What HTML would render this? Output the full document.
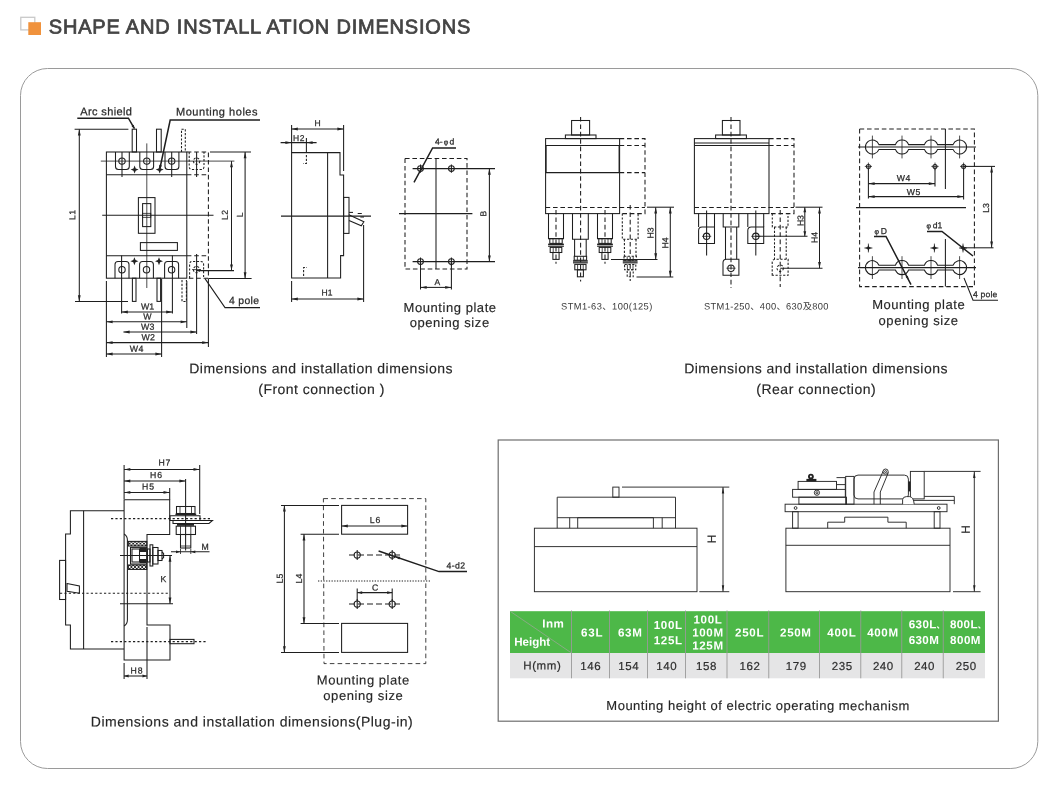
<!DOCTYPE html>
<html lang="en"><head><meta charset="utf-8"><title>Shape and installation dimensions</title>
<style>
html,body{margin:0;padding:0;background:#fff}
body{width:1060px;height:790px;overflow:hidden;position:relative;font-family:"Liberation Sans","Noto Sans CJK SC",sans-serif}
svg{position:absolute;left:0;top:0;display:block;transform:translateZ(0);opacity:.999}
svg *{vector-effect:none}
line,polyline,polygon,rect,circle,path{fill:none;stroke:#1e1e1e;stroke-width:1.05}
text{font-family:"Liberation Sans","Noto Sans CJK SC",sans-serif;fill:#2b2b2b;stroke:#2b2b2b;stroke-width:.25}
.ar{fill:#222;stroke:none}
.d{stroke-dasharray:4.6 2.8}
.d3{stroke-dasharray:4.6 3.2;stroke-width:.85}
.d2{stroke-dasharray:2.2 1.6}
.dot{stroke-dasharray:2.2 2.2}
.tk{stroke-width:1.5}
.dot2{stroke-dasharray:1.3 1.4}
.th{stroke-width:.8}
.bk{fill:#222;stroke:none}
.w{fill:#fff}
.g{stroke:#8c8c8c}
.hat{fill:url(#hx)}
.dl{stroke-dasharray:6 3}
.cap{fill:#262626;stroke:#262626;stroke-width:.15}
.sm{fill:#3a3a3a;stroke:none}
#mech1 *,#mech2 *{stroke-width:.95;stroke:#2a2a2a}
#mech1 .ar,#mech2 .ar,#mech2 .bk{stroke:none}
#mech1 text,#mech2 text{stroke-width:.2}
</style></head><body>
<svg width="1060" height="790" viewBox="0 0 1060 790">
<defs><pattern id="hx" width="3.6" height="3.6" patternUnits="userSpaceOnUse"><path d="M0 0L3.6 3.6M3.6 0L0 3.6" style="stroke:#222;stroke-width:.9;fill:none"/></pattern></defs>
<rect x="20.8" y="17.3" width="14" height="12.6" style="stroke:#c9c9c9;stroke-width:1.3;fill:#fff"/>
<rect x="28.3" y="22.2" width="12.7" height="12.8" style="fill:#f0923c;stroke:none"/>
<text x="48.8" y="33.4" font-size="20" textLength="421.5" lengthAdjust="spacing" transform="rotate(0.03 48.8 33.4)" style="fill:#444;stroke:#444;stroke-width:.75">SHAPE AND INSTALL ATION DIMENSIONS</text>
<rect x="20.5" y="68.5" width="1017.3" height="700" rx="27" style="stroke:#9a9a9a;stroke-width:1;fill:none"/>
<g id="front">
<rect x="106.4" y="152" width="80.4" height="126.2"/>
<line x1="106.4" y1="174.8" x2="186.8" y2="174.8"/>
<line x1="106.4" y1="255.8" x2="186.8" y2="255.8"/>
<path d="M115.5 152 V166.5 Q115.5 169.5 118.5 169.5 H126.3 Q129.3 169.5 129.3 166.5 V152"/>
<circle cx="122" cy="161.1" r="3.2"/>
<path d="M139.8 152 V166.5 Q139.8 169.5 142.8 169.5 H150.6 Q153.6 169.5 153.6 166.5 V152"/>
<circle cx="146.8" cy="161.1" r="3.2"/>
<path d="M165 152 V166.5 Q165 169.5 168 169.5 H175.9 Q178.9 169.5 178.9 166.5 V152"/>
<circle cx="171.7" cy="161.1" r="3.2"/>
<line x1="122" y1="152" x2="122" y2="177"/>
<line x1="171.7" y1="152" x2="171.7" y2="177"/>
<path d="M115 278.2 V264.4 Q115 261.4 118 261.4 H126 Q129 261.4 129 264.4 V278.2"/>
<circle cx="122" cy="269.8" r="3.2"/>
<path d="M139.6 278.2 V264.4 Q139.6 261.4 142.6 261.4 H150.4 Q153.4 261.4 153.4 264.4 V278.2"/>
<circle cx="146.5" cy="269.8" r="3.2"/>
<path d="M164.6 278.2 V264.4 Q164.6 261.4 167.6 261.4 H175.6 Q178.6 261.4 178.6 264.4 V278.2"/>
<circle cx="171.6" cy="269.8" r="3.2"/>
<line x1="100.8" y1="161.1" x2="234.4" y2="161.1" class="th"/>
<line x1="146.8" y1="143.4" x2="146.8" y2="288" class="th"/>
<line x1="102.2" y1="215.2" x2="213.5" y2="215.2"/>
<rect x="138.4" y="197.6" width="16.6" height="35.7"/>
<rect x="142.6" y="203.6" width="8.2" height="23"/>
<rect x="142.6" y="213.3" width="8.2" height="4" class="th"/>
<rect x="140.4" y="242.6" width="37" height="7.8"/>
<polygon class="ar" points="134.6,165.6 135.72,168.48 138.6,169.6 135.72,170.72 134.6,173.6 133.48,170.72 130.6,169.6 133.48,168.48"/>
<polygon class="ar" points="159.7,165.6 160.82,168.48 163.7,169.6 160.82,170.72 159.7,173.6 158.58,170.72 155.7,169.6 158.58,168.48"/>
<polygon class="ar" points="134.4,257.2 135.52,260.08 138.4,261.2 135.52,262.32 134.4,265.2 133.28,262.32 130.4,261.2 133.28,260.08"/>
<polygon class="ar" points="159,257.2 160.12,260.08 163,261.2 160.12,262.32 159,265.2 157.88,262.32 155,261.2 157.88,260.08"/>
<rect x="132.2" y="129.2" width="4.3" height="22.8"/>
<rect x="156.5" y="129.2" width="4.7" height="22.8"/>
<path d="M181.5 152 V129.2 H185.3 V152" class="d2"/>
<rect x="132.4" y="278.2" width="3.6" height="23.2"/>
<rect x="157" y="278.2" width="3.6" height="23.2"/>
<path d="M182 280 V301.4 H186.4 V280" class="d2"/>
<path d="M186.8 152 H208.4 V278.2 H186.8" class="d"/>
<line x1="186.8" y1="174.8" x2="208.4" y2="174.8" class="d"/>
<line x1="186.8" y1="255.8" x2="208.4" y2="255.8" class="d"/>
<path d="M189.2 152 V166.5 Q189.2 169.5 192.2 169.5 H201 Q204 169.5 204 166.5 V152" class="d2"/>
<path d="M189.6 278.2 V264.4 Q189.6 261.4 192.6 261.4 H200.6 Q203.6 261.4 203.6 264.4 V278.2" class="d2"/>
<circle cx="196.6" cy="161.1" r="3.2" class="d2"/>
<circle cx="196.6" cy="269.6" r="3.2" class="d2"/>
<line x1="192" y1="269.6" x2="201" y2="269.6" class="th"/>
<line x1="196.6" y1="152" x2="196.6" y2="177"/>
<line x1="74.6" y1="129.2" x2="128.4" y2="129.2"/>
<line x1="75" y1="301.4" x2="128" y2="301.4"/>
<line x1="79.3" y1="129.2" x2="79.3" y2="301.4"/>
<polygon class="ar" points="79.3,129.2 80.7,135.4 77.9,135.4"/>
<polygon class="ar" points="79.3,301.4 77.9,295.2 80.7,295.2"/>
<text font-size="8.5" textLength="10" lengthAdjust="spacing" transform="translate(75.23 220) rotate(-90.03)">L1</text>
<line x1="196.6" y1="270.6" x2="234" y2="270.6"/>
<line x1="231.5" y1="161.1" x2="231.5" y2="270.6"/>
<polygon class="ar" points="231.5,161.1 232.9,167.3 230.1,167.3"/>
<polygon class="ar" points="231.5,270.6 230.1,264.4 232.9,264.4"/>
<line x1="210" y1="152" x2="251" y2="152"/>
<line x1="209" y1="278.4" x2="251.6" y2="278.4"/>
<line x1="245.1" y1="152" x2="245.1" y2="278.4"/>
<polygon class="ar" points="245.1,152 246.5,158.2 243.7,158.2"/>
<polygon class="ar" points="245.1,278.4 243.7,272.2 246.5,272.2"/>
<text font-size="8.5" textLength="10" lengthAdjust="spacing" transform="translate(227.83 220) rotate(-90.03)">L2</text>
<text font-size="8.5" textLength="4.6" lengthAdjust="spacing" transform="translate(242.83 217.3) rotate(-90.03)">L</text>
<line x1="121.6" y1="255.4" x2="121.6" y2="313.5"/>
<line x1="172.4" y1="255.4" x2="172.4" y2="313.5"/>
<line x1="106.4" y1="281" x2="106.4" y2="357"/>
<line x1="186.8" y1="281" x2="186.8" y2="328"/>
<line x1="196.6" y1="254" x2="196.6" y2="334"/>
<line x1="208.4" y1="278.2" x2="208.4" y2="347"/>
<line x1="161.6" y1="279" x2="161.6" y2="357"/>
<line x1="121.6" y1="312" x2="172.4" y2="312"/>
<polygon class="ar" points="121.6,312 127.8,310.6 127.8,313.4"/>
<polygon class="ar" points="172.4,312 166.2,313.4 166.2,310.6"/>
<line x1="106.4" y1="321.8" x2="186.8" y2="321.8"/>
<polygon class="ar" points="106.4,321.8 112.6,320.4 112.6,323.2"/>
<polygon class="ar" points="186.8,321.8 180.6,323.2 180.6,320.4"/>
<line x1="123.4" y1="332" x2="196.6" y2="332"/>
<polygon class="ar" points="123.4,332 129.6,330.6 129.6,333.4"/>
<polygon class="ar" points="196.6,332 190.4,333.4 190.4,330.6"/>
<line x1="106.4" y1="342.6" x2="208.4" y2="342.6"/>
<polygon class="ar" points="106.4,342.6 112.6,341.2 112.6,344"/>
<polygon class="ar" points="208.4,342.6 202.2,344 202.2,341.2"/>
<line x1="106.4" y1="354" x2="161.6" y2="354"/>
<polygon class="ar" points="106.4,354 112.6,352.6 112.6,355.4"/>
<polygon class="ar" points="161.6,354 155.4,355.4 155.4,352.6"/>
<text x="140.9" y="309.5" font-size="8.8" textLength="13.2" lengthAdjust="spacing" transform="rotate(0.03 140.9 309.5)">W1</text>
<text x="143.3" y="319.6" font-size="8.8" textLength="8.4" lengthAdjust="spacing" transform="rotate(0.03 143.3 319.6)">W</text>
<text x="141" y="329.8" font-size="8.8" textLength="13.4" lengthAdjust="spacing" transform="rotate(0.03 141 329.8)">W3</text>
<text x="141.6" y="340.3" font-size="8.8" textLength="13.4" lengthAdjust="spacing" transform="rotate(0.03 141.6 340.3)">W2</text>
<text x="129.7" y="351.8" font-size="8.8" textLength="13.8" lengthAdjust="spacing" transform="rotate(0.03 129.7 351.8)">W4</text>
<text x="80.3" y="115.2" font-size="11" textLength="51.6" lengthAdjust="spacing" transform="rotate(0.03 80.3 115.2)">Arc shield</text>
<path d="M77.3 118.2 H128.4 L134.3 128.4" class="tk"/>
<polygon class="ar" points="134.8,129.2 131.42,125.95 133.68,124.65"/>
<text x="176" y="115.5" font-size="11" textLength="81.5" lengthAdjust="spacing" transform="rotate(0.03 176 115.5)">Mounting holes</text>
<path d="M260 120 H170.2 L160 168" class="tk"/>
<polygon class="ar" points="159.6,170 159.22,164.82 161.97,165.38"/>
<path d="M205 278.6 L225 307.6 H260"/>
<text x="229" y="304" font-size="10.4" textLength="30" lengthAdjust="spacing" transform="rotate(0.03 229 304)">4 pole</text>
</g>
<g id="side">
<polygon points="291.6,152.6 340,152.6 340,175 343.6,175 343.6,255.6 340.6,255.6 340.6,278 291.6,278"/>
<line x1="327.6" y1="152.6" x2="327.6" y2="278"/>
<rect x="343.6" y="197.4" width="5.4" height="36"/>
<line x1="281" y1="216.1" x2="371" y2="216.1"/>
<polyline points="348.8,214.7 363.9,221.8 361.3,225.8 349,220.4"/>
<line x1="349" y1="212.4" x2="353" y2="212.4"/>
<line x1="357.7" y1="213.5" x2="361.8" y2="213.5"/>
<line x1="360.3" y1="217" x2="364" y2="217"/>
<line x1="291.6" y1="125" x2="291.6" y2="152.6"/>
<line x1="343.6" y1="125" x2="343.6" y2="171"/>
<line x1="291.6" y1="129" x2="343.6" y2="129"/>
<polygon class="ar" points="291.6,129 297.8,127.6 297.8,130.4"/>
<polygon class="ar" points="343.6,129 337.4,130.4 337.4,127.6"/>
<text x="314.6" y="126" font-size="8.5" textLength="6" lengthAdjust="spacing" transform="rotate(0.03 314.6 126)">H</text>
<line x1="280.6" y1="142.6" x2="316.6" y2="142.6"/>
<polygon class="ar" points="291.6,142.6 285.4,144 285.4,141.2"/>
<polygon class="ar" points="306.4,142.6 312.6,141.2 312.6,144"/>
<line x1="306.4" y1="138" x2="306.4" y2="153"/>
<text x="293" y="141" font-size="8.5" textLength="11.5" lengthAdjust="spacing" transform="rotate(0.03 293 141)">H2</text>
<path d="M306.4 155 V163.5 H303" class="d2"/>
<path d="M303.6 276 V267.5 H307" class="d2"/>
<line x1="291.6" y1="281" x2="291.6" y2="302"/>
<line x1="363.6" y1="225" x2="363.6" y2="302"/>
<line x1="291.6" y1="299" x2="363.6" y2="299"/>
<polygon class="ar" points="291.6,299 297.8,297.6 297.8,300.4"/>
<polygon class="ar" points="363.6,299 357.4,300.4 357.4,297.6"/>
<text x="321.5" y="295.6" font-size="8.5" textLength="11" lengthAdjust="spacing" transform="rotate(0.03 321.5 295.6)">H1</text>
</g>
<g id="mp1">
<rect x="405" y="158.5" width="62" height="110.5" class="d"/>
<line x1="436" y1="158.5" x2="436" y2="269"/>
<line x1="412.6" y1="168.6" x2="495" y2="168.6"/>
<line x1="412.6" y1="261.6" x2="495" y2="261.6"/>
<line x1="399" y1="213.6" x2="472.4" y2="213.6"/>
<circle cx="420.5" cy="168.6" r="2.9"/>
<line x1="420.5" y1="164.5" x2="420.5" y2="172.7"/>
<circle cx="451.4" cy="168.6" r="2.9"/>
<line x1="451.4" y1="164.5" x2="451.4" y2="172.7"/>
<circle cx="420.5" cy="261.6" r="2.9"/>
<line x1="420.5" y1="257.5" x2="420.5" y2="265.7"/>
<circle cx="451.4" cy="261.6" r="2.9"/>
<line x1="451.4" y1="257.5" x2="451.4" y2="265.7"/>
<line x1="489.4" y1="168.6" x2="489.4" y2="261.6"/>
<polygon class="ar" points="489.4,168.6 490.8,174.8 488,174.8"/>
<polygon class="ar" points="489.4,261.6 488,255.4 490.8,255.4"/>
<text font-size="8.5" textLength="5.6" lengthAdjust="spacing" transform="translate(486.13 216.4) rotate(-90.03)">B</text>
<path d="M414 182.4 L432.6 148 H456" class="tk"/>
<polygon class="ar" points="419.2,172.8 420.43,167.78 422.72,169.02"/>
<text x="435" y="144.5" font-size="8.6" transform="rotate(0.03 435 144.5)">4-<tspan font-size="7" dx="1">φ</tspan><tspan dx="1.4">d</tspan></text>
<line x1="420.5" y1="263" x2="420.5" y2="289.5"/>
<line x1="451.4" y1="263" x2="451.4" y2="289.5"/>
<line x1="420.5" y1="287.4" x2="451.4" y2="287.4"/>
<polygon class="ar" points="420.5,287.4 426.7,286 426.7,288.8"/>
<polygon class="ar" points="451.4,287.4 445.2,288.8 445.2,286"/>
<text x="434.6" y="285" font-size="8.5" textLength="5.6" lengthAdjust="spacing" transform="rotate(0.03 434.6 285)">A</text>
<text x="403.55" y="312" font-size="13" textLength="92.5" lengthAdjust="spacing" transform="rotate(0.03 403.55 312)" class="cap">Mounting plate</text>
<text x="409.65" y="327" font-size="13" textLength="79.5" lengthAdjust="spacing" transform="rotate(0.03 409.65 327)" class="cap">opening size</text>
</g>
<text x="189.25" y="373.2" font-size="14" textLength="263.3" lengthAdjust="spacing" transform="rotate(0.03 189.25 373.2)" class="cap">Dimensions and installation dimensions</text>
<text x="258.3" y="393.9" font-size="14" textLength="126" lengthAdjust="spacing" transform="rotate(0.03 258.3 393.9)" class="cap">(Front connection )</text>
<g id="rear1">
<rect x="545.6" y="138.6" width="74" height="75"/>
<line x1="545.6" y1="145.4" x2="619.6" y2="145.4"/>
<line x1="545.6" y1="172.6" x2="619.6" y2="172.6"/>
<line x1="546.1" y1="145.4" x2="546.1" y2="172.6"/>
<line x1="619.1" y1="145.4" x2="619.1" y2="172.6"/>
<line x1="545.6" y1="207.4" x2="645" y2="207.4" class="d"/>
<rect x="571.6" y="120.5" width="18" height="14.5"/>
<rect x="565.4" y="135" width="30.6" height="3.6"/>
<line x1="580.6" y1="117" x2="580.6" y2="281.5" class="d"/>
<path d="M619.6 138.6 H645 V213.6 H619.6" class="d"/>
<line x1="619.6" y1="145.4" x2="645" y2="145.4" class="d"/>
<line x1="619.6" y1="172.6" x2="645" y2="172.6" class="d"/>
<path d="M548.5 213.6 V238.6 H563.5 V213.6"/>
<rect x="549.8" y="238.6" width="12.4" height="4.8"/>
<line x1="553" y1="238.6" x2="553" y2="243.4" class="th"/>
<line x1="559" y1="238.6" x2="559" y2="243.4" class="th"/>
<rect x="548.1" y="243.6" width="15.8" height="1.4" class="bk"/>
<rect x="548.1" y="245.6" width="15.8" height="1.2" class="bk"/>
<rect x="550.2" y="247.4" width="11.6" height="5.1"/>
<line x1="553.2" y1="247.4" x2="553.2" y2="252.5" class="th"/>
<line x1="558.8" y1="247.4" x2="558.8" y2="252.5" class="th"/>
<rect x="552.9" y="252.5" width="6.2" height="6.9"/>
<line x1="556" y1="210" x2="556" y2="263.8" class="d"/>
<path d="M572.5 213.6 V239.3 H588.3 V213.6"/>
<path d="M574.6 239.3 V256.3 M586.2 239.3 V256.3"/>
<rect x="574.2" y="256.3" width="12.4" height="3.9"/>
<line x1="577.4" y1="256.3" x2="577.4" y2="260.2" class="th"/>
<line x1="583.4" y1="256.3" x2="583.4" y2="260.2" class="th"/>
<rect x="573" y="260.3" width="14.8" height="1.4" class="bk"/>
<rect x="573" y="262.2" width="14.8" height="1.2" class="bk"/>
<rect x="574.8" y="264.4" width="11.2" height="5.4"/>
<line x1="577.6" y1="264.4" x2="577.6" y2="269.8" class="th"/>
<line x1="583.2" y1="264.4" x2="583.2" y2="269.8" class="th"/>
<rect x="577.4" y="269.8" width="6" height="7"/>
<path d="M597.5 213.6 V238.6 H612.5 V213.6"/>
<rect x="598.8" y="238.6" width="12.4" height="4.8"/>
<line x1="602" y1="238.6" x2="602" y2="243.4" class="th"/>
<line x1="608" y1="238.6" x2="608" y2="243.4" class="th"/>
<rect x="597.1" y="243.6" width="15.8" height="1.4" class="bk"/>
<rect x="597.1" y="245.6" width="15.8" height="1.2" class="bk"/>
<rect x="599.2" y="247.4" width="11.6" height="5.1"/>
<line x1="602.2" y1="247.4" x2="602.2" y2="252.5" class="th"/>
<line x1="607.8" y1="247.4" x2="607.8" y2="252.5" class="th"/>
<rect x="601.9" y="252.5" width="6.2" height="6.9"/>
<line x1="605" y1="210" x2="605" y2="263.8" class="d"/>
<path d="M622.3 213.6 V239.3 H638.1 V213.6" class="d2"/>
<path d="M624.4 239.3 V256.3 M636 239.3 V256.3" class="d2"/>
<rect x="624" y="256.3" width="12.4" height="3.9" class="d2"/>
<line x1="627.2" y1="256.3" x2="627.2" y2="260.2" class="th"/>
<line x1="633.2" y1="256.3" x2="633.2" y2="260.2" class="th"/>
<rect x="622.8" y="260.3" width="14.8" height="1.4" class="bk"/>
<rect x="622.8" y="262.2" width="14.8" height="1.2" class="bk"/>
<rect x="624.6" y="264.4" width="11.2" height="5.4" class="d2"/>
<line x1="627.4" y1="264.4" x2="627.4" y2="269.8" class="th"/>
<line x1="633" y1="264.4" x2="633" y2="269.8" class="th"/>
<rect x="627.2" y="269.8" width="6" height="7" class="d2"/>
<line x1="630.2" y1="205" x2="630.2" y2="281" class="d"/>
<line x1="647" y1="207.2" x2="674" y2="207.2"/>
<line x1="611" y1="259.5" x2="657.5" y2="259.5"/>
<line x1="636.5" y1="276.9" x2="673.3" y2="276.9"/>
<line x1="655.7" y1="207.2" x2="655.7" y2="259.5"/>
<polygon class="ar" points="655.7,207.2 657.1,213.4 654.3,213.4"/>
<polygon class="ar" points="655.7,259.5 654.3,253.3 657.1,253.3"/>
<line x1="670.3" y1="207.2" x2="670.3" y2="276.9"/>
<polygon class="ar" points="670.3,207.2 671.7,213.4 668.9,213.4"/>
<polygon class="ar" points="670.3,276.9 668.9,270.7 671.7,270.7"/>
<text font-size="8.7" textLength="11" lengthAdjust="spacing" transform="translate(653.6 238.5) rotate(-90.03)">H3</text>
<text font-size="8.7" textLength="11" lengthAdjust="spacing" transform="translate(668.2 248.5) rotate(-90.03)">H4</text>
<text x="561" y="309.5" font-size="9.3" textLength="91.3" lengthAdjust="spacing" transform="rotate(0.03 561 309.5)" class="sm">STM1-63、100(125)</text>
</g>
<g id="rear2">
<rect x="694.4" y="138.6" width="74.6" height="75"/>
<line x1="694.4" y1="143" x2="769" y2="143"/>
<line x1="694.4" y1="145.4" x2="769" y2="145.4"/>
<line x1="694.4" y1="207.4" x2="794" y2="207.4" class="d"/>
<rect x="722.4" y="120.5" width="17.6" height="14.5"/>
<rect x="715.6" y="135" width="30.8" height="3.6"/>
<line x1="731" y1="117" x2="731" y2="288" class="d"/>
<path d="M769 138.6 H794 V213.6 H769" class="d"/>
<line x1="769" y1="145.4" x2="794" y2="145.4" class="d"/>
<path d="M698.6 213.6 V227 M714.5 213.6 V227"/>
<path d="M698.6 243.5 V230.5 Q698.6 227 702.1 227 H714.5 V243.5 Z"/>
<circle cx="706.6" cy="236.3" r="3.2"/>
<line x1="702" y1="236.3" x2="711.2" y2="236.3" class="th"/>
<line x1="706.6" y1="210.4" x2="706.6" y2="255.6"/>
<path d="M747.8 213.6 V227 M763.7 213.6 V227"/>
<path d="M747.8 243.5 V230.5 Q747.8 227 751.3 227 H763.7 V243.5 Z"/>
<circle cx="755.8" cy="236.3" r="3.2"/>
<line x1="751.2" y1="236.3" x2="760.4" y2="236.3" class="th"/>
<line x1="755.8" y1="210.4" x2="755.8" y2="255.6"/>
<path d="M723.2 213.6 V227 H738.8 V213.6"/>
<path d="M725.5 227 V259.2 M736.7 227 V259.2"/>
<path d="M723 275.3 V262.7 Q723 259.2 726.5 259.2 H738.9 V275.3 Z"/>
<circle cx="731" cy="268.2" r="3.2"/>
<line x1="726.4" y1="268.2" x2="735.6" y2="268.2" class="th"/>
<path d="M772.3 213.6 V227 H788 V213.6" class="d2"/>
<path d="M774.5 227 V259.2 M786.2 227 V259.2" class="d2"/>
<path d="M772.2 275.3 V262.7 Q772.2 259.2 775.7 259.2 H788.1 V275.3 Z" class="d2"/>
<circle cx="780.2" cy="268.2" r="3.2" class="d2"/>
<line x1="780.2" y1="210" x2="780.2" y2="287" class="d"/>
<line x1="795.5" y1="207.2" x2="822.5" y2="207.2"/>
<line x1="755.8" y1="236.3" x2="807.5" y2="236.3"/>
<line x1="780.2" y1="268.2" x2="822.5" y2="268.2"/>
<line x1="804.8" y1="207.2" x2="804.8" y2="236.3"/>
<polygon class="ar" points="804.8,207.2 806.2,212.2 803.4,212.2"/>
<polygon class="ar" points="804.8,236.3 803.4,231.3 806.2,231.3"/>
<line x1="819.5" y1="207.2" x2="819.5" y2="268.2"/>
<polygon class="ar" points="819.5,207.2 820.9,213.4 818.1,213.4"/>
<polygon class="ar" points="819.5,268.2 818.1,262 820.9,262"/>
<text font-size="8.7" textLength="11" lengthAdjust="spacing" transform="translate(803.6 226.1) rotate(-90.03)">H3</text>
<text font-size="8.7" textLength="11" lengthAdjust="spacing" transform="translate(817.4 243) rotate(-90.03)">H4</text>
<text x="704" y="309.5" font-size="9.3" textLength="124.5" lengthAdjust="spacing" transform="rotate(0.03 704 309.5)" class="sm">STM1-250、400、630及800</text>
</g>
<g id="mp2">
<rect x="859.6" y="129" width="114.8" height="157.6" class="d"/>
<path d="M878.98 144.6 A7.0 7.0 0 1 0 878.98 149.4 L895.42 149.4 A7.0 7.0 0 0 0 908.58 149.4 L924.42 149.4 A7.0 7.0 0 0 0 937.58 149.4 L953.02 149.4 A7.0 7.0 0 1 0 953.02 144.6 L937.58 144.6 A7.0 7.0 0 0 0 924.42 144.6 L908.58 144.6 A7.0 7.0 0 0 0 895.42 144.6 Z"/>
<line x1="858" y1="147" x2="976" y2="147"/>
<line x1="872.4" y1="135.6" x2="872.4" y2="158.4" class="th"/>
<line x1="902" y1="135.6" x2="902" y2="158.4" class="th"/>
<line x1="931" y1="135.6" x2="931" y2="158.4" class="th"/>
<line x1="959.6" y1="135.6" x2="959.6" y2="158.4" class="th"/>
<path d="M878.98 265.2 A7.0 7.0 0 1 0 878.98 270 L895.42 270 A7.0 7.0 0 0 0 908.58 270 L924.42 270 A7.0 7.0 0 0 0 937.58 270 L953.02 270 A7.0 7.0 0 1 0 953.02 265.2 L937.58 265.2 A7.0 7.0 0 0 0 924.42 265.2 L908.58 265.2 A7.0 7.0 0 0 0 895.42 265.2 Z"/>
<line x1="858" y1="267.6" x2="976" y2="267.6"/>
<line x1="872.4" y1="256.2" x2="872.4" y2="279" class="th"/>
<line x1="902" y1="256.2" x2="902" y2="279" class="th"/>
<line x1="931" y1="256.2" x2="931" y2="279" class="th"/>
<line x1="959.6" y1="256.2" x2="959.6" y2="279" class="th"/>
<line x1="945.4" y1="129" x2="945.4" y2="189"/>
<line x1="945.4" y1="239" x2="945.4" y2="286.6"/>
<circle cx="868.4" cy="166.4" r="2"/>
<line x1="864.8" y1="166.4" x2="872" y2="166.4" class="th"/>
<line x1="868.4" y1="162.6" x2="868.4" y2="170.2" class="th"/>
<circle cx="935" cy="166.4" r="2"/>
<line x1="931.4" y1="166.4" x2="938.6" y2="166.4" class="th"/>
<line x1="935" y1="162.6" x2="935" y2="170.2" class="th"/>
<circle cx="963.6" cy="166.4" r="2"/>
<line x1="960" y1="166.4" x2="967.2" y2="166.4" class="th"/>
<line x1="963.6" y1="162.6" x2="963.6" y2="170.2" class="th"/>
<line x1="868.4" y1="169" x2="868.4" y2="198.6"/>
<line x1="935" y1="169" x2="935" y2="186.5"/>
<line x1="963.6" y1="169" x2="963.6" y2="199.5"/>
<line x1="868.4" y1="183.6" x2="935" y2="183.6"/>
<polygon class="ar" points="868.4,183.6 874.6,182.2 874.6,185"/>
<polygon class="ar" points="935,183.6 928.8,185 928.8,182.2"/>
<line x1="868.4" y1="196.6" x2="963.6" y2="196.6"/>
<polygon class="ar" points="868.4,196.6 874.6,195.2 874.6,198"/>
<polygon class="ar" points="963.6,196.6 957.4,198 957.4,195.2"/>
<text x="896.85" y="181" font-size="8.7" textLength="13.5" lengthAdjust="spacing" transform="rotate(0.03 896.85 181)">W4</text>
<text x="906.85" y="195" font-size="8.7" textLength="13.5" lengthAdjust="spacing" transform="rotate(0.03 906.85 195)">W5</text>
<line x1="856" y1="207.6" x2="966" y2="207.6"/>
<line x1="963.6" y1="166.4" x2="995" y2="166.4"/>
<line x1="963.6" y1="247.8" x2="993.5" y2="247.8"/>
<line x1="991.6" y1="166.4" x2="991.6" y2="247.8"/>
<polygon class="ar" points="991.6,166.4 993,172.6 990.2,172.6"/>
<polygon class="ar" points="991.6,247.8 990.2,241.6 993,241.6"/>
<text font-size="8.7" textLength="9.5" lengthAdjust="spacing" transform="translate(989 212.75) rotate(-90.03)">L3</text>
<polygon class="ar" points="868.4,244.7 869.32,247.08 871.7,248 869.32,248.92 868.4,251.3 867.48,248.92 865.1,248 867.48,247.08"/>
<line x1="864.4" y1="248" x2="872.4" y2="248" class="th"/>
<line x1="868.4" y1="243.6" x2="868.4" y2="252.4" class="th"/>
<polygon class="ar" points="934.4,244.7 935.32,247.08 937.7,248 935.32,248.92 934.4,251.3 933.48,248.92 931.1,248 933.48,247.08"/>
<line x1="930.4" y1="248" x2="938.4" y2="248" class="th"/>
<line x1="934.4" y1="243.6" x2="934.4" y2="252.4" class="th"/>
<polygon class="ar" points="963,244.7 963.92,247.08 966.3,248 963.92,248.92 963,251.3 962.08,248.92 959.7,248 962.08,247.08"/>
<line x1="959" y1="248" x2="967" y2="248" class="th"/>
<line x1="963" y1="243.6" x2="963" y2="252.4" class="th"/>
<text x="874.6" y="234" font-size="8.6" transform="rotate(0.03 874.6 234)"><tspan font-size="7">φ</tspan><tspan dx="1.6">D</tspan></text>
<path d="M874 236.5 H886 L911 284.6" class="tk"/>
<polygon class="ar" points="909,280.7 905.54,276.86 907.85,275.66"/>
<text x="926.6" y="228.3" font-size="8.6" transform="rotate(0.03 926.6 228.3)"><tspan font-size="7">φ</tspan><tspan dx="1.6">d1</tspan></text>
<path d="M927 231.4 H942 L973 256" class="tk"/>
<polygon class="ar" points="966,250.4 961.27,248.31 962.89,246.28"/>
<path d="M964 278 L973 300.2 H998"/>
<text x="973" y="297.2" font-size="8.6" textLength="24.4" lengthAdjust="spacing" transform="rotate(0.03 973 297.2)">4 pole</text>
<text x="872.15" y="309" font-size="13" textLength="92.5" lengthAdjust="spacing" transform="rotate(0.03 872.15 309)" class="cap">Mounting plate</text>
<text x="878.55" y="325" font-size="13" textLength="79.5" lengthAdjust="spacing" transform="rotate(0.03 878.55 325)" class="cap">opening size</text>
</g>
<text x="684.15" y="373.2" font-size="14" textLength="263.3" lengthAdjust="spacing" transform="rotate(0.03 684.15 373.2)" class="cap">Dimensions and installation dimensions</text>
<text x="756.25" y="393.9" font-size="14" textLength="119.5" lengthAdjust="spacing" transform="rotate(0.03 756.25 393.9)" class="cap">(Rear connection)</text>
<g id="plug">
<polyline points="124,510.7 70.4,510.7 70.4,534 65.6,534 65.6,625 70.4,625 70.4,649 124,649"/>
<line x1="83.6" y1="510.7" x2="83.6" y2="649"/>
<rect x="59.6" y="560.4" width="6" height="39.1"/>
<polygon points="67,583.6 79.4,586 79.4,593.2 67,591.2"/>
<polyline points="124.1,626 124.1,499.7 169.7,499.7 169.7,534.4 147,534.4 147,625 170,625 170,660 124.1,660 124.1,626"/>
<path d="M124.1 534 Q127.4 536 127.4 540 V620 Q127.4 624 124.1 626"/>
<line x1="111" y1="518.6" x2="210" y2="518.6" class="dot"/>
<line x1="60" y1="593.2" x2="170" y2="593.2" class="dot"/>
<line x1="111" y1="641.6" x2="206" y2="641.6" class="dot"/>
<rect x="170" y="639.4" width="24" height="4.3"/>
<line x1="124.1" y1="465" x2="124.1" y2="499"/>
<line x1="199.7" y1="465" x2="199.7" y2="514"/>
<line x1="185.6" y1="479" x2="185.6" y2="550.5"/>
<line x1="169.7" y1="488" x2="169.7" y2="499.7"/>
<line x1="124.1" y1="469.4" x2="199.7" y2="469.4"/>
<polygon class="ar" points="124.1,469.4 130.3,468 130.3,470.8"/>
<polygon class="ar" points="199.7,469.4 193.5,470.8 193.5,468"/>
<line x1="124.1" y1="481" x2="185.6" y2="481"/>
<polygon class="ar" points="124.1,481 130.3,479.6 130.3,482.4"/>
<polygon class="ar" points="185.6,481 179.4,482.4 179.4,479.6"/>
<line x1="124.1" y1="492.4" x2="169.7" y2="492.4"/>
<polygon class="ar" points="124.1,492.4 130.3,491 130.3,493.8"/>
<polygon class="ar" points="169.7,492.4 163.5,493.8 163.5,491"/>
<text x="158.4" y="465.6" font-size="8.7" textLength="12" lengthAdjust="spacing" transform="rotate(0.03 158.4 465.6)">H7</text>
<text x="150" y="478" font-size="8.7" textLength="12" lengthAdjust="spacing" transform="rotate(0.03 150 478)">H6</text>
<text x="142" y="489.6" font-size="8.7" textLength="12" lengthAdjust="spacing" transform="rotate(0.03 142 489.6)">H5</text>
<rect x="176.5" y="506.5" width="18.5" height="7"/>
<line x1="180" y1="506.5" x2="180" y2="513.5" class="th"/>
<line x1="191.5" y1="506.5" x2="191.5" y2="513.5" class="th"/>
<rect x="175.4" y="513.6" width="20.8" height="1.6" class="bk"/>
<polygon points="170,515.8 200,515.8 200,520.5 212.5,520.5 209,523.5 173,523.5 173,520.5 170,520.5"/>
<line x1="173" y1="520.5" x2="200" y2="520.5"/>
<rect x="177" y="524" width="17" height="1.8" class="bk"/>
<rect x="176.2" y="526.2" width="19.3" height="8.3"/>
<line x1="180.5" y1="526.2" x2="180.5" y2="534.5" class="th"/>
<line x1="190.8" y1="526.2" x2="190.8" y2="534.5" class="th"/>
<rect x="180.5" y="534.5" width="10.3" height="13.5"/>
<line x1="180.5" y1="546" x2="190.8" y2="546" class="th"/>
<line x1="171" y1="551.8" x2="209.5" y2="551.8"/>
<polygon class="ar" points="180.5,551.8 176,553.2 176,550.4"/>
<polygon class="ar" points="190.8,551.8 195.3,550.4 195.3,553.2"/>
<line x1="180.5" y1="549" x2="180.5" y2="554" class="th"/>
<line x1="190.8" y1="549" x2="190.8" y2="554" class="th"/>
<text x="201.5" y="549.7" font-size="8.7" transform="rotate(0.03 201.5 549.7)">M</text>
<rect x="128.3" y="541.4" width="18.5" height="4.6" class="hat"/>
<rect x="128.3" y="565" width="18.5" height="4.4" class="hat"/>
<rect x="130.5" y="547.4" width="16.3" height="16.6"/>
<rect x="139.5" y="548" width="7" height="4" class="bk"/>
<rect x="139.5" y="559" width="7" height="4" class="bk"/>
<rect x="132" y="549" width="7.5" height="13"/>
<rect x="150" y="544.8" width="2.8" height="21.2" class="w"/>
<rect x="147.4" y="549" width="2.6" height="13"/>
<rect x="152.8" y="547.5" width="5.2" height="16.5"/>
<rect x="158" y="550.5" width="4" height="10"/>
<polyline points="162,552 163.6,553.5 163.6,557.5 162,559"/>
<line x1="120" y1="555.5" x2="172" y2="555.5"/>
<line x1="120" y1="603.8" x2="173" y2="603.8"/>
<line x1="170" y1="555.5" x2="170" y2="603.8"/>
<polygon class="ar" points="170,555.5 171.4,561.7 168.6,561.7"/>
<polygon class="ar" points="170,603.8 168.6,597.6 171.4,597.6"/>
<text x="160.6" y="582" font-size="8.7" transform="rotate(0.03 160.6 582)">K</text>
<line x1="147" y1="627" x2="147" y2="679"/>
<line x1="124.1" y1="663" x2="124.1" y2="679"/>
<line x1="124.1" y1="676" x2="147" y2="676"/>
<polygon class="ar" points="124.1,676 128.6,674.6 128.6,677.4"/>
<polygon class="ar" points="147,676 142.5,677.4 142.5,674.6"/>
<text x="130.6" y="673.6" font-size="8.7" textLength="12" lengthAdjust="spacing" transform="rotate(0.03 130.6 673.6)">H8</text>
</g>
<g id="mp3">
<path d="M323.4 498.6 H425.8 V663.6 H324 Z" class="d3"/>
<rect x="341.6" y="505.4" width="66" height="28.8"/>
<rect x="341.6" y="623.4" width="66" height="29"/>
<line x1="341.6" y1="526" x2="407.6" y2="526"/>
<polygon class="ar" points="341.6,526 347.8,524.6 347.8,527.4"/>
<polygon class="ar" points="407.6,526 401.4,527.4 401.4,524.6"/>
<text x="369.75" y="523" font-size="8.7" textLength="10.5" lengthAdjust="spacing" transform="rotate(0.03 369.75 523)">L6</text>
<line x1="281" y1="505.4" x2="339" y2="505.4"/>
<line x1="281" y1="652.4" x2="339" y2="652.4"/>
<line x1="284.4" y1="505.4" x2="284.4" y2="652.4"/>
<polygon class="ar" points="284.4,505.4 285.8,511.6 283,511.6"/>
<polygon class="ar" points="284.4,652.4 283,646.2 285.8,646.2"/>
<line x1="300.6" y1="534.2" x2="339" y2="534.2"/>
<line x1="300.6" y1="623.4" x2="339" y2="623.4"/>
<line x1="304" y1="534.2" x2="304" y2="623.4"/>
<polygon class="ar" points="304,534.2 305.4,540.4 302.6,540.4"/>
<polygon class="ar" points="304,623.4 302.6,617.2 305.4,617.2"/>
<text font-size="8.7" textLength="10" lengthAdjust="spacing" transform="translate(282.8 583.6) rotate(-90.03)">L5</text>
<text font-size="8.7" textLength="10" lengthAdjust="spacing" transform="translate(302 583.6) rotate(-90.03)">L4</text>
<line x1="349" y1="555" x2="401" y2="555" class="dl"/>
<circle cx="357.2" cy="555" r="3.1"/>
<line x1="357.2" y1="549.9" x2="357.2" y2="560.1"/>
<circle cx="392.2" cy="555" r="3.1"/>
<line x1="392.2" y1="549.9" x2="392.2" y2="560.1"/>
<line x1="349" y1="604" x2="401" y2="604" class="dl"/>
<circle cx="357.2" cy="604" r="3.1"/>
<line x1="357.2" y1="598.9" x2="357.2" y2="609.1"/>
<circle cx="392.2" cy="604" r="3.1"/>
<line x1="392.2" y1="598.9" x2="392.2" y2="609.1"/>
<path d="M378.6 551 L439 571.6 H467" class="tk"/>
<polygon class="ar" points="394.6,556.4 400.26,556.85 399.36,559.5"/>
<text x="446.6" y="568.6" font-size="8.7" textLength="18.4" lengthAdjust="spacing" transform="rotate(0.03 446.6 568.6)">4-d2</text>
<line x1="318" y1="581" x2="431" y2="581" class="dot2"/>
<line x1="357.2" y1="588.6" x2="357.2" y2="601"/>
<line x1="392.2" y1="588.6" x2="392.2" y2="601"/>
<line x1="357.2" y1="592.6" x2="392.2" y2="592.6"/>
<polygon class="ar" points="357.2,592.6 362.2,591.2 362.2,594"/>
<polygon class="ar" points="392.2,592.6 387.2,594 387.2,591.2"/>
<text x="372" y="590.4" font-size="8.7" textLength="6" lengthAdjust="spacing" transform="rotate(0.03 372 590.4)">C</text>
<text x="316.75" y="684.4" font-size="13" textLength="92.5" lengthAdjust="spacing" transform="rotate(0.03 316.75 684.4)" class="cap">Mounting plate</text>
<text x="323.25" y="700" font-size="13" textLength="79.5" lengthAdjust="spacing" transform="rotate(0.03 323.25 700)" class="cap">opening size</text>
</g>
<text x="90.8" y="726.4" font-size="14" textLength="322" lengthAdjust="spacing" transform="rotate(0.03 90.8 726.4)" class="cap">Dimensions and installation dimensions(Plug-in)</text>
<rect x="498.2" y="440" width="500.2" height="281.2" style="stroke:#6e6e6e;stroke-width:1.2;fill:#fff"/>
<g id="mech1">
<rect x="534.4" y="528.2" width="162.6" height="63.5"/>
<line x1="534.4" y1="546.6" x2="697" y2="546.6"/>
<polyline points="557.2,528.2 557.2,497.2 675.5,497.2 675.5,528.2"/>
<line x1="557.2" y1="517.7" x2="675.5" y2="517.7"/>
<line x1="577.7" y1="517.7" x2="653.4" y2="517.7" class="tk"/>
<line x1="577.7" y1="517.7" x2="577.7" y2="528.2"/>
<line x1="653.4" y1="517.7" x2="653.4" y2="528.2"/>
<line x1="569.7" y1="517.7" x2="569.7" y2="528.2"/>
<line x1="662.2" y1="517.7" x2="662.2" y2="528.2"/>
<rect x="612.8" y="487.1" width="6.2" height="10.1"/>
<line x1="622" y1="487.1" x2="729.3" y2="487.1"/>
<line x1="699.3" y1="591.7" x2="729.3" y2="591.7"/>
<line x1="723" y1="487.1" x2="723" y2="591.7"/>
<polygon class="ar" points="723,487.1 724.2,493.6 721.8,493.6"/>
<polygon class="ar" points="723,591.7 721.8,585.2 724.2,585.2"/>
<text font-size="11.8" textLength="8.6" lengthAdjust="spacing" transform="translate(715.87 543.3) rotate(-90.03)">H</text>
</g>
<g id="mech2">
<rect x="785.9" y="528.2" width="164.1" height="63.5"/>
<line x1="785.9" y1="545.3" x2="950" y2="545.3"/>
<polyline points="827.7,528.2 827.7,522.2 844.7,522.2 844.7,517.2 887.9,517.2 887.9,522.2 906.2,522.2 906.2,528.2"/>
<rect x="785.1" y="504.2" width="161.9" height="7.5"/>
<circle cx="795.6" cy="508" r="1.4"/>
<circle cx="938.7" cy="508" r="1.4"/>
<rect x="792.6" y="511.7" width="5.5" height="16.5"/>
<rect x="934.2" y="511.7" width="5.8" height="16.5"/>
<rect x="792.6" y="489.4" width="52.7" height="7.8"/>
<rect x="798.1" y="481.4" width="38.4" height="8"/>
<rect x="798.9" y="497.2" width="47.6" height="7"/>
<circle cx="816.9" cy="492.7" r="2.6"/>
<circle cx="816.9" cy="492.7" r="1"/>
<polyline points="836.5,477.6 845.3,477.6 845.3,489.4"/>
<polyline points="836.5,481.4 836.5,484.6 845.3,484.6"/>
<rect x="806.4" y="478.9" width="10" height="2.5" class="bk"/>
<circle cx="810.9" cy="476.6" r="2.9" class="bk"/>
<circle cx="810.9" cy="476.4" r="1" style="fill:#fff;stroke:none"/>
<rect x="845.7" y="476.4" width="8.3" height="27.8"/>
<rect x="854" y="475.1" width="54.4" height="23.8" rx="4"/>
<line x1="908.4" y1="498.9" x2="908.4" y2="504.2"/>
<path d="M883.4 470.6 L874 492 V504.2 M888.4 472.4 L880.3 492 V504.2"/>
<circle cx="885.6" cy="471.6" r="2.6" class="w"/>
<circle cx="885.6" cy="471.6" r="1"/>
<rect x="908.2" y="481.4" width="2.4" height="10" class="bk"/>
<rect x="910.4" y="471.4" width="13.8" height="27.5"/>
<polyline points="924.2,496.4 954.3,496.4 954.3,504.2"/>
<line x1="912" y1="500.4" x2="954.3" y2="500.4"/>
<path d="M902.6 504.2 V499.6 Q903 496.6 906.4 496.6 H909.6 Q913.6 497 914.2 504.2" class="w"/>
<line x1="924.2" y1="471.4" x2="980.6" y2="471.4"/>
<line x1="953" y1="591.7" x2="980.6" y2="591.7"/>
<line x1="974.3" y1="471.4" x2="974.3" y2="591.7"/>
<polygon class="ar" points="974.3,471.4 975.5,477.9 973.1,477.9"/>
<polygon class="ar" points="974.3,591.7 973.1,585.2 975.5,585.2"/>
<text font-size="11.8" textLength="8.6" lengthAdjust="spacing" transform="translate(969.67 533.8) rotate(-90.03)">H</text>
</g>
<rect x="510" y="611.2" width="475" height="41.8" style="fill:#4db848;stroke:none"/>
<rect x="510" y="653" width="475" height="25.3" style="fill:#e5e5e6;stroke:none"/>
<line x1="571.5" y1="610.5" x2="571.5" y2="678.3" style="stroke:#989898;stroke-width:.9"/>
<line x1="609.5" y1="610.5" x2="609.5" y2="678.3" style="stroke:#989898;stroke-width:.9"/>
<line x1="647.5" y1="610.5" x2="647.5" y2="678.3" style="stroke:#989898;stroke-width:.9"/>
<line x1="685.5" y1="610.5" x2="685.5" y2="678.3" style="stroke:#989898;stroke-width:.9"/>
<line x1="727" y1="610.5" x2="727" y2="678.3" style="stroke:#989898;stroke-width:.9"/>
<line x1="768.75" y1="610.5" x2="768.75" y2="678.3" style="stroke:#989898;stroke-width:.9"/>
<line x1="819.5" y1="610.5" x2="819.5" y2="678.3" style="stroke:#989898;stroke-width:.9"/>
<line x1="860.75" y1="610.5" x2="860.75" y2="678.3" style="stroke:#989898;stroke-width:.9"/>
<line x1="901.75" y1="610.5" x2="901.75" y2="678.3" style="stroke:#989898;stroke-width:.9"/>
<line x1="943.25" y1="610.5" x2="943.25" y2="678.3" style="stroke:#989898;stroke-width:.9"/>
<line x1="510.5" y1="611.5" x2="571.5" y2="653" style="stroke:#8fa98a;stroke-width:.9"/>
<text x="542.2" y="627.6" font-size="11.6" textLength="21.6" lengthAdjust="spacing" transform="rotate(0.03 542.2 627.6)" style="fill:#fff;font-weight:bold;stroke:none">Inm</text>
<text x="514.2" y="645.8" font-size="11.6" textLength="36" lengthAdjust="spacing" transform="rotate(0.03 514.2 645.8)" style="fill:#fff;font-weight:bold;stroke:none">Height</text>
<text x="581.1" y="636.6" font-size="11.6" textLength="21.6" lengthAdjust="spacing" transform="rotate(0.03 581.1 636.6)" style="fill:#fff;font-weight:bold;stroke:none">63L</text>
<text x="617.9" y="636.6" font-size="11.6" textLength="24" lengthAdjust="spacing" transform="rotate(0.03 617.9 636.6)" style="fill:#fff;font-weight:bold;stroke:none">63M</text>
<text x="653.7" y="629" font-size="11.6" textLength="28.4" lengthAdjust="spacing" transform="rotate(0.03 653.7 629)" style="fill:#fff;font-weight:bold;stroke:none">100L</text>
<text x="653.7" y="644.2" font-size="11.6" textLength="28.4" lengthAdjust="spacing" transform="rotate(0.03 653.7 644.2)" style="fill:#fff;font-weight:bold;stroke:none">125L</text>
<text x="693.45" y="623.6" font-size="11.6" textLength="28.4" lengthAdjust="spacing" transform="rotate(0.03 693.45 623.6)" style="fill:#fff;font-weight:bold;stroke:none">100L</text>
<text x="692.15" y="636.6" font-size="11.6" textLength="31" lengthAdjust="spacing" transform="rotate(0.03 692.15 636.6)" style="fill:#fff;font-weight:bold;stroke:none">100M</text>
<text x="692.15" y="649.6" font-size="11.6" textLength="31" lengthAdjust="spacing" transform="rotate(0.03 692.15 649.6)" style="fill:#fff;font-weight:bold;stroke:none">125M</text>
<text x="735.07" y="636.6" font-size="11.6" textLength="28.4" lengthAdjust="spacing" transform="rotate(0.03 735.07 636.6)" style="fill:#fff;font-weight:bold;stroke:none">250L</text>
<text x="780.02" y="636.6" font-size="11.6" textLength="31" lengthAdjust="spacing" transform="rotate(0.03 780.02 636.6)" style="fill:#fff;font-weight:bold;stroke:none">250M</text>
<text x="827.32" y="636.6" font-size="11.6" textLength="28.4" lengthAdjust="spacing" transform="rotate(0.03 827.32 636.6)" style="fill:#fff;font-weight:bold;stroke:none">400L</text>
<text x="867.15" y="636.6" font-size="11.6" textLength="31" lengthAdjust="spacing" transform="rotate(0.03 867.15 636.6)" style="fill:#fff;font-weight:bold;stroke:none">400M</text>
<text x="908.8" y="628.2" font-size="11.6" textLength="27.5" lengthAdjust="spacing" transform="rotate(0.03 908.8 628.2)" style="fill:#fff;font-weight:bold;stroke:none">630L</text>
<text x="936.6" y="628.2" font-size="8" transform="rotate(0.03 936.6 628.2)" style="fill:#fff;font-weight:bold;stroke:none">、</text>
<text x="908.8" y="644" font-size="11.6" textLength="30" lengthAdjust="spacing" transform="rotate(0.03 908.8 644)" style="fill:#fff;font-weight:bold;stroke:none">630M</text>
<text x="950" y="628.2" font-size="11.6" textLength="27.5" lengthAdjust="spacing" transform="rotate(0.03 950 628.2)" style="fill:#fff;font-weight:bold;stroke:none">800L</text>
<text x="977.8" y="628.2" font-size="8" transform="rotate(0.03 977.8 628.2)" style="fill:#fff;font-weight:bold;stroke:none">、</text>
<text x="950" y="644" font-size="11.6" textLength="30.5" lengthAdjust="spacing" transform="rotate(0.03 950 644)" style="fill:#fff;font-weight:bold;stroke:none">800M</text>
<text x="523.3" y="669.6" font-size="11.5" textLength="37.5" lengthAdjust="spacing" transform="rotate(0.03 523.3 669.6)" style="fill:#2e2e2e;stroke:#2e2e2e;stroke-width:.2">H(mm)</text>
<text x="580.35" y="670" font-size="11.5" textLength="20.3" lengthAdjust="spacing" transform="rotate(0.03 580.35 670)" style="fill:#2e2e2e;stroke:#2e2e2e;stroke-width:.2">146</text>
<text x="618.35" y="670" font-size="11.5" textLength="20.3" lengthAdjust="spacing" transform="rotate(0.03 618.35 670)" style="fill:#2e2e2e;stroke:#2e2e2e;stroke-width:.2">154</text>
<text x="656.35" y="670" font-size="11.5" textLength="20.3" lengthAdjust="spacing" transform="rotate(0.03 656.35 670)" style="fill:#2e2e2e;stroke:#2e2e2e;stroke-width:.2">140</text>
<text x="696.1" y="670" font-size="11.5" textLength="20.3" lengthAdjust="spacing" transform="rotate(0.03 696.1 670)" style="fill:#2e2e2e;stroke:#2e2e2e;stroke-width:.2">158</text>
<text x="739.52" y="670" font-size="11.5" textLength="20.3" lengthAdjust="spacing" transform="rotate(0.03 739.52 670)" style="fill:#2e2e2e;stroke:#2e2e2e;stroke-width:.2">162</text>
<text x="785.77" y="670" font-size="11.5" textLength="20.3" lengthAdjust="spacing" transform="rotate(0.03 785.77 670)" style="fill:#2e2e2e;stroke:#2e2e2e;stroke-width:.2">179</text>
<text x="831.77" y="670" font-size="11.5" textLength="20.3" lengthAdjust="spacing" transform="rotate(0.03 831.77 670)" style="fill:#2e2e2e;stroke:#2e2e2e;stroke-width:.2">235</text>
<text x="872.9" y="670" font-size="11.5" textLength="20.3" lengthAdjust="spacing" transform="rotate(0.03 872.9 670)" style="fill:#2e2e2e;stroke:#2e2e2e;stroke-width:.2">240</text>
<text x="914.15" y="670" font-size="11.5" textLength="20.3" lengthAdjust="spacing" transform="rotate(0.03 914.15 670)" style="fill:#2e2e2e;stroke:#2e2e2e;stroke-width:.2">240</text>
<text x="955.77" y="670" font-size="11.5" textLength="20.3" lengthAdjust="spacing" transform="rotate(0.03 955.77 670)" style="fill:#2e2e2e;stroke:#2e2e2e;stroke-width:.2">250</text>
<text x="606.3" y="710" font-size="13" textLength="303" lengthAdjust="spacing" transform="rotate(0.03 606.3 710)" class="cap">Mounting height of electric operating mechanism</text>
</svg>
</body></html>
